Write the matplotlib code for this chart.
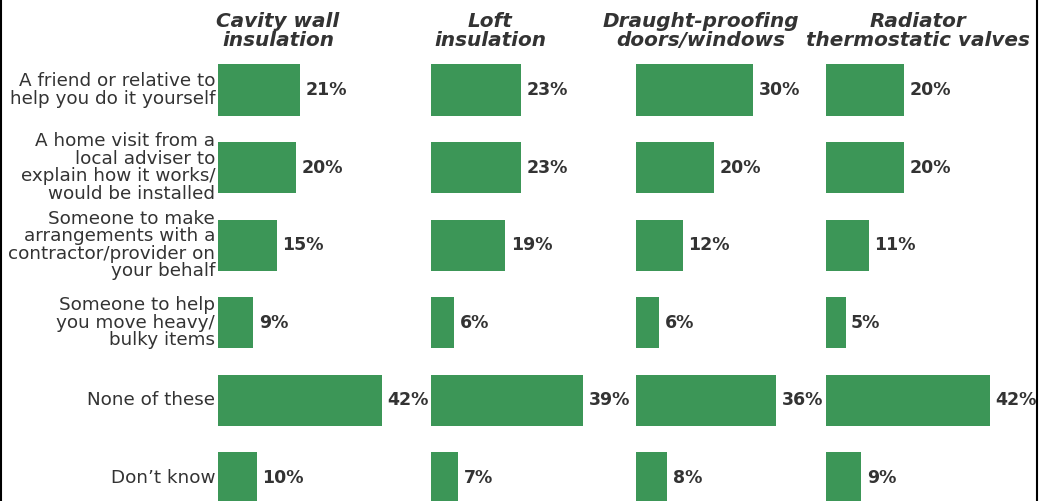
import matplotlib.pyplot as plt
from matplotlib.lines import Line2D

W, H = 1039, 501

measures = ["Cavity wall\ninsulation", "Loft\ninsulation",
            "Draught-proofing\ndoors/windows", "Radiator\nthermostatic valves"]
categories = ["A friend or relative to\nhelp you do it yourself",
              "A home visit from a\nlocal adviser to\nexplain how it works/\nwould be installed",
              "Someone to make\narrangements with a\ncontractor/provider on\nyour behalf",
              "Someone to help\nyou move heavy/\nbulky items",
              "None of these",
              "Don\u2019t know"]
cavity = [21, 20, 15, 9, 42, 10]
loft = [23, 23, 19, 6, 39, 7]
draught = [30, 20, 12, 6, 36, 8]
radiator = [20, 20, 11, 5, 42, 9]
series = [cavity, loft, draught, radiator]

green = "#3c9657"
dark = "#333333"
plt.rcParams['font.family'] = ['DejaVu Sans']

fig = plt.figure(figsize=(W / 100, H / 100), dpi=100)

# pixel layout
starts = [218, 431, 636, 826]
title_x = [278, 490, 701, 918]
px_per_pct = 3.9
ax_w = 190
row0, row_step = 90, 77.6
top = row0 - row_step / 2
bot = top + 6 * row_step

for i, vals in enumerate(series):
    ax = fig.add_axes([starts[i] / W, 1 - bot / H, ax_w / W, (bot - top) / H])
    ypos = list(range(len(vals)))
    ax.barh(ypos, vals, height=0.66, color=green, edgecolor="none")
    ax.set_xlim(0, ax_w / px_per_pct)
    ax.set_ylim(5.5, -0.5)
    ax.axis("off")
    for y, v in zip(ypos, vals):
        ax.annotate(f"{v}%", (v, y), xytext=(4, 0), textcoords="offset points",
                    va="center", ha="left", fontsize=12.5, fontweight="bold", color=dark)
    if i == 0:
        for y, c in zip(ypos, categories):
            ax.annotate(c, (0, y), xytext=(-2, 0), textcoords="offset points",
                        va="center", ha="right", fontsize=13.2, color=dark, linespacing=0.96)
    fig.text(title_x[i] / W, 1 - 31 / H, measures[i], ha="center", va="center",
             fontsize=14.4, fontweight="bold", fontstyle="italic", color=dark, linespacing=0.95)

fig.add_artist(Line2D([1 / W, 1 / W], [0, 1], color="black", lw=1.5, transform=fig.transFigure))
fig.add_artist(Line2D([1037 / W, 1037 / W], [0, 1], color="black", lw=1.5, transform=fig.transFigure))

fig.savefig("out.png", dpi=100)
